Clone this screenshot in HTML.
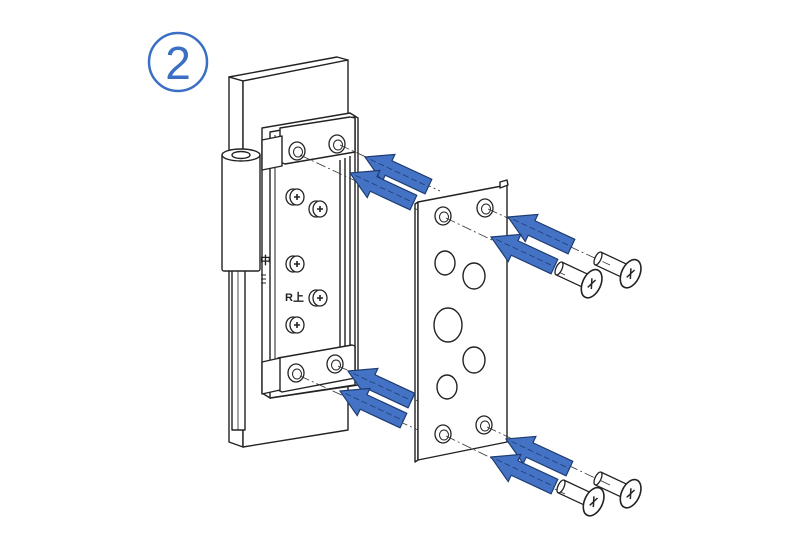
<!DOCTYPE html>
<html><head><meta charset="utf-8"><style>
html,body{margin:0;padding:0;background:#fff;}
svg{display:block}
</style></head><body>
<svg width="800" height="533" viewBox="0 0 800 533" xmlns="http://www.w3.org/2000/svg">
<defs>
<g id="arr">
<polygon points="0,0 26,-15 26,-8 70,-8 70,8 26,8 26,15" fill="#4472c4" stroke="#1e3c72" stroke-width="1.2"/>
<line x1="6" y1="0" x2="70" y2="0" stroke="#1e3c72" stroke-width="0.8" stroke-dasharray="6,3"/>
</g>
<g id="scr">
<path d="M-32,-7 L0,-7 M-32,7 L0,7" stroke="#222" stroke-width="1.3" fill="none"/>
<ellipse cx="-32" cy="0" rx="3" ry="7" fill="#fff" stroke="#222" stroke-width="1.3"/>
<ellipse cx="4" cy="0" rx="9" ry="15" fill="#fff" stroke="#222" stroke-width="1.6"/>
<path d="M2,-5 L6,5 M6,-5 L2,5" stroke="#222" stroke-width="1.5"/>
</g>
<g id="hole">
<ellipse cx="0" cy="0" rx="8" ry="9" fill="#fff" stroke="#222" stroke-width="1.3"/>
<ellipse cx="1" cy="1" rx="4.5" ry="5" fill="none" stroke="#222" stroke-width="1"/>
</g>
<g id="ps">
<ellipse cx="0" cy="0" rx="7" ry="8" fill="#fff" stroke="#222" stroke-width="1.3"/>
<ellipse cx="4" cy="0" rx="7" ry="8" fill="#fff" stroke="#222" stroke-width="1.3"/>
<path d="M1,0 L7,0 M4,-3 L4,3" stroke="#222" stroke-width="1.6"/>
</g>
</defs>
<circle cx="178" cy="62" r="29" fill="none" stroke="#3a6fc4" stroke-width="2.5"/>
<text x="178" y="79" font-family="Liberation Sans, sans-serif" font-size="46" fill="#3a6fc4" text-anchor="middle">2</text>

<g stroke="#222" stroke-width="1.4" fill="#fff" stroke-linejoin="round">
<polygon points="229,77 337,57 348,60 243,81"/>
<polygon points="229,77 243,81 243,447 229,442"/>
<polygon points="243,81 348,60 348,430 243,447"/>
<rect x="232" y="268" width="13" height="162"/>
<line x1="238" y1="270" x2="238" y2="430" stroke-width="0.8"/>
<polygon points="262,128 350,113 358,118 358,385 270,398 262,393"/>
<polygon points="270,132 355,117 355,385 270,398"/>
<line x1="340" y1="160" x2="340" y2="357"/>
<line x1="345" y1="158" x2="345" y2="356"/>
<line x1="350" y1="156" x2="350" y2="355"/>
<line x1="275" y1="135" x2="275" y2="390" stroke-width="1"/>
<polygon points="280,128 350,117 355,118 355,152 285,164 280,162"/>
<polygon points="262,140 282,136 282,166 262,170"/>
<polygon points="278,358 352,345 355,346 355,378 282,392 278,390"/>
<polygon points="262,362 280,358 280,390 262,394"/>
<rect x="222" y="153" width="38" height="118" rx="2"/>
<ellipse cx="241" cy="155" rx="19" ry="6"/>
<ellipse cx="241" cy="155" rx="9" ry="3.5"/>
<polygon points="415,204 418,202 418,460 415,462"/>
<polygon points="418,202 507,185 507,442 418,460"/>
<polygon points="500,182 507,180 508,185 500,188"/>
<ellipse cx="445" cy="263" rx="10" ry="12"/>
<ellipse cx="474" cy="276" rx="11" ry="13"/>
<ellipse cx="448" cy="325" rx="14" ry="17"/>
<ellipse cx="474" cy="360" rx="11" ry="13"/>
<ellipse cx="447" cy="387" rx="10" ry="12"/>
</g>
<use href="#hole" x="297" y="151"/>
<use href="#hole" x="337" y="144"/>
<use href="#hole" x="296" y="373"/>
<use href="#hole" x="335" y="364"/>
<use href="#hole" x="443" y="216"/>
<use href="#hole" x="485" y="208"/>
<use href="#hole" x="443" y="434"/>
<use href="#hole" x="484" y="425"/>
<use href="#ps" x="293" y="197"/>
<use href="#ps" x="316" y="209"/>
<use href="#ps" x="293" y="264"/>
<use href="#ps" x="316" y="298"/>
<use href="#ps" x="293" y="325"/>
<text x="285" y="301" font-family="Liberation Sans, Noto Sans CJK JP, sans-serif" font-size="11" font-weight="bold" fill="#222">R上</text>
<text x="260" y="264" font-family="Liberation Sans, Noto Sans CJK JP, sans-serif" font-size="11" font-weight="bold" fill="#222">中</text>
<path d="M261,275 h5 M261,279 h5 M261,283 h5" stroke="#222" stroke-width="1"/>

<g stroke="#333" stroke-width="0.8" stroke-dasharray="10,3,2,3" fill="none">
<line x1="340" y1="145" x2="440" y2="191"/>
<line x1="300" y1="155" x2="418" y2="210"/>
<line x1="338" y1="366" x2="418" y2="401"/>
<line x1="300" y1="376" x2="418" y2="430"/>
<line x1="488" y1="209" x2="610" y2="265"/>
<line x1="446" y1="218" x2="565" y2="275"/>
<line x1="487" y1="427" x2="610" y2="485"/>
<line x1="446" y1="436" x2="565" y2="494"/>
</g>
<use href="#arr" transform="translate(365,157) rotate(25)"/>
<use href="#arr" transform="translate(350,173) rotate(25)"/>
<use href="#arr" transform="translate(348,371) rotate(25)"/>
<use href="#arr" transform="translate(340,391) rotate(25)"/>
<use href="#arr" transform="translate(508,217) rotate(25)"/>
<use href="#arr" transform="translate(491,237) rotate(25)"/>
<use href="#arr" transform="translate(506,439) rotate(25)"/>
<use href="#arr" transform="translate(491,457) rotate(25)"/>
<use href="#scr" transform="translate(588,282) rotate(25)"/>
<use href="#scr" transform="translate(627,272) rotate(25)"/>
<use href="#scr" transform="translate(590,500) rotate(25)"/>
<use href="#scr" transform="translate(627,492) rotate(25)"/>
</svg>
</body></html>
